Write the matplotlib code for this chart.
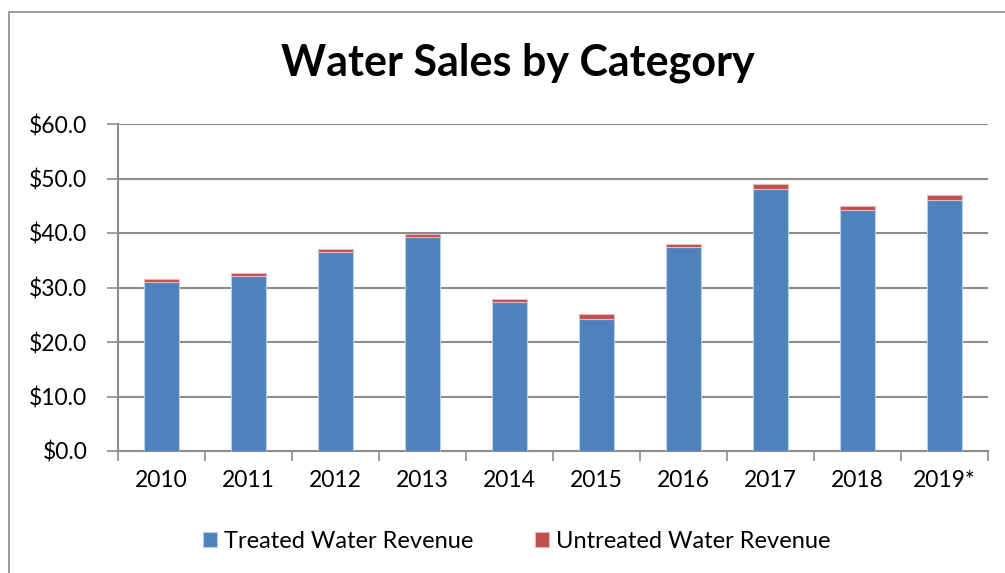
import matplotlib.pyplot as plt
import numpy as np

years = ['2010', '2011', '2012', '2013', '2014', '2015', '2016', '2017', '2018', '2019*']
treated = [31.1, 32.2, 36.5, 39.2, 27.3, 24.3, 37.4, 48.1, 44.2, 46.1]
untreated = [0.5, 0.4, 0.6, 0.7, 0.6, 0.8, 0.6, 0.9, 0.8, 0.8]
yticks = [0, 10, 20, 30, 40, 50, 60]

plt.rcParams['font.family'] = ['Lato', 'DejaVu Sans']

fig = plt.figure(figsize=(10.05, 5.73), dpi=100)
ax = fig.add_axes([118 / 1005, 1 - 451 / 573, 870 / 1005, 327 / 573])

# outer chart frame (cut off at right/bottom like the screenshot)
fig.patches.append(plt.Rectangle((9 / 1005, -0.05), 1.2, 1 - 12 / 573 + 0.05,
                                 transform=fig.transFigure, fill=False,
                                 edgecolor='#8c8c8c', linewidth=1.2))

x = np.arange(len(years))
ax.bar(x, treated, width=0.4, color='#4F81BD', edgecolor='#b9cde5', linewidth=0.8,
       label='Treated Water Revenue', zorder=3)
ax.bar(x, untreated, width=0.4, bottom=treated, color='#C0504D', edgecolor='#e6b9b8',
       linewidth=0.8, label='Untreated Water Revenue', zorder=3)

ax.set_xlim(-0.5, len(years) - 0.5)
ax.set_ylim(0, 60)
ax.set_yticks(yticks)
ax.set_yticklabels([f'${v:.1f}' for v in yticks], fontsize=16.5)
ax.yaxis.grid(True, color='#8c8c8c', linewidth=1.5, zorder=0)
ax.tick_params(axis='y', length=8, width=1.2, color='#8c8c8c', pad=14)

ax.set_xticks(x)
ax.set_xticklabels(years, fontsize=16.5)
ax.set_xticks(np.arange(-0.5, len(years)), minor=True)
ax.tick_params(axis='x', which='major', length=0, pad=14)
ax.tick_params(axis='x', which='minor', length=7, width=1.2, color='#8c8c8c')

for side in ['top', 'right']:
    ax.spines[side].set_visible(False)
for side in ['left', 'bottom']:
    ax.spines[side].set_color('#8c8c8c')
    ax.spines[side].set_linewidth(1.5)

fig.text(518 / 1005, 1 - 63 / 573, 'Water Sales by Category', ha='center', va='center',
         fontsize=31, fontweight='bold')

fig.legend(loc='center', bbox_to_anchor=(517 / 1005, 1 - 541 / 573), ncol=2, frameon=False,
           fontsize=17, handlelength=0.6, handleheight=0.6, handletextpad=0.3,
           columnspacing=2.6)

fig.savefig('out.png', dpi=100)
